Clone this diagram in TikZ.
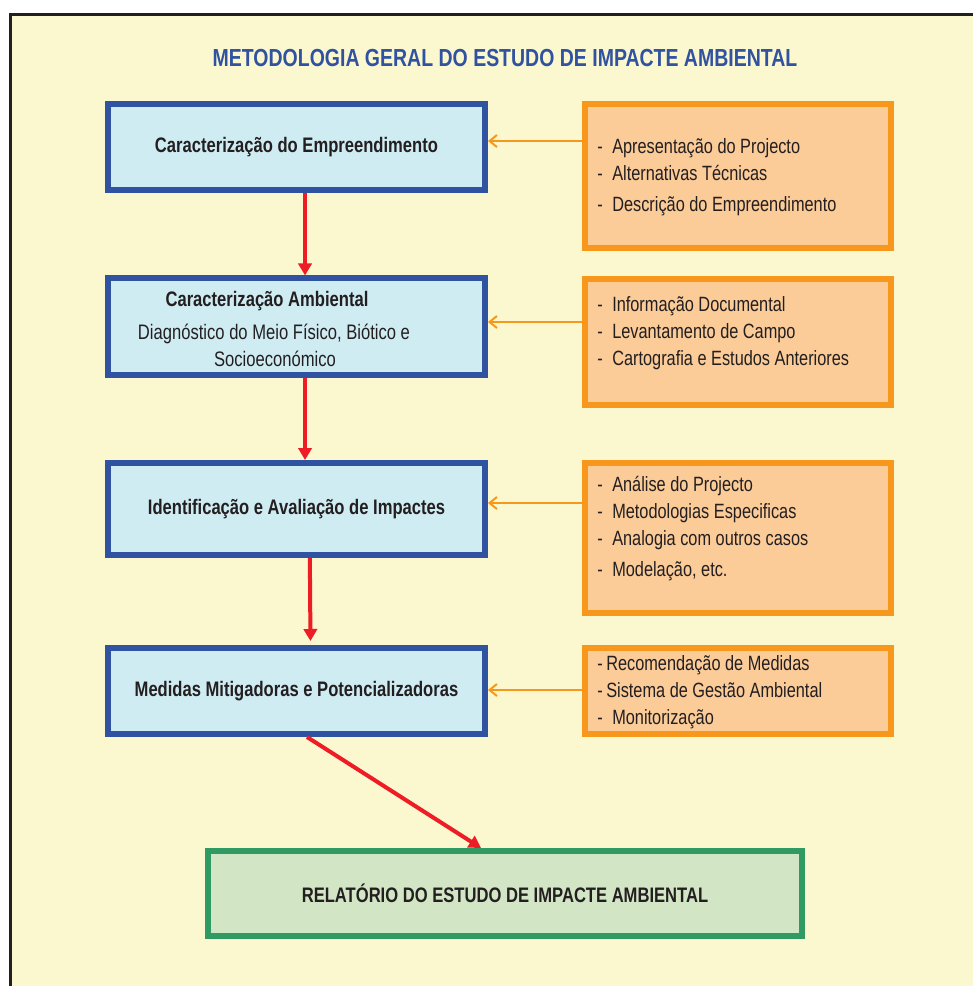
\documentclass[tikz,border=0pt]{standalone}
\usepackage{fontspec}
\setmainfont{Liberation Sans}[FakeStretch=0.79]
\usetikzlibrary{arrows.meta}
\definecolor{paper}{HTML}{FBF8CF}
\definecolor{frameline}{HTML}{231F20}
\definecolor{ink}{HTML}{231F20}
\definecolor{titleblue}{HTML}{3052A1}
\definecolor{stageline}{HTML}{2F52A1}
\definecolor{stagefill}{HTML}{D0ECF3}
\definecolor{sourceline}{HTML}{F7981D}
\definecolor{sourcefill}{HTML}{FBCB98}
\definecolor{reportline}{HTML}{2F9B63}
\definecolor{reportfill}{HTML}{D2E6C6}
\definecolor{flowred}{HTML}{EE1C25}
\newcommand\lineitem[2][11.25pt]{\makebox[#1][l]{-}#2}

\begin{document}
\begin{tikzpicture}[x=0.75pt,y=-0.75pt,
      stage/.style={draw=stageline, fill=stagefill, line width=4.5pt, outer sep=2.25pt,
        inner sep=0pt, minimum width=282.75pt, text=ink,
        font=\fontsize{15.75pt}{20.25pt}\selectfont\bfseries},
      source/.style={draw=sourceline, fill=sourcefill, line width=4.5pt, outer sep=2.25pt,
        inner sep=0pt, minimum width=229.5pt},
      items/.style={anchor=base west, inner sep=0pt, text=ink,
        font=\fontsize{15.5pt}{20.25pt}\selectfont},
      flow/.style={draw=flowred, line width=3pt, -{Triangle[length=9pt,width=10pt]}},
      feed/.style={draw=sourceline, line width=1.5pt, -{Straight Barb[length=5.5pt,width=9pt]}}]
    \useasboundingbox (0,0) rectangle (973,986);
    \fill[paper] (10,14.5) rectangle (973,986);
    \draw[frameline, line width=2.25pt] (10,986) |- (973,14.5);

    \node (title) [anchor=base, text=titleblue, font=\fontsize{18.5pt}{22pt}\selectfont\bfseries]
        at (505,66) {METODOLOGIA GERAL DO ESTUDO DE IMPACTE AMBIENTAL};

    \node (box1) [stage, minimum height=64.5pt] at (296.5,147) {Caracterização do Empreendimento};
    \node (box2) [stage, minimum height=71.25pt] at (296.5,326.5) {\begin{tabular}{@{}c@{}}
        \rule{0pt}{21pt}Caracterização Ambiental\hspace*{44.25pt}\\[4.5pt]
        \mdseries Diagnóstico do Meio Físico, Biótico e\hspace*{33.75pt}\\
        \mdseries Socioeconómico\hspace*{32.25pt}\end{tabular}};
    \node (box3) [stage, minimum height=69pt] at (296.5,509) {Identificação e Avaliação de Impactes};
    \node (box4) [stage, minimum height=64.5pt] at (296.5,691) {Medidas Mitigadoras e Potencializadoras};
    \node (report) [stage, draw=reportline, fill=reportfill, minimum width=445.5pt, minimum height=63.75pt]
        at (505,893.5) {RELATÓRIO DO ESTUDO DE IMPACTE AMBIENTAL};

    \node (ctx1) [source, minimum height=108pt] at (738,176) {};
    \node (ctx2) [source, minimum height=94.5pt] at (738,342) {};
    \node (ctx3) [source, minimum height=112.5pt] at (738,538) {};
    \node (ctx4) [source, minimum height=64.5pt] at (738,691) {};

    \node (list1) [items] at (597,153) {\begin{tabular}[t]{@{}l@{}}
        \lineitem{Apresentação do Projecto}\\
        \lineitem{Alternativas Técnicas}\\[3pt]
        \lineitem{Descrição do Empreendimento}\end{tabular}};
    \node (list2) [items] at (597,311) {\begin{tabular}[t]{@{}l@{}}
        \lineitem{Informação Documental}\\
        \lineitem{Levantamento de Campo}\\
        \lineitem{Cartografia e Estudos Anteriores}\end{tabular}};
    \node (list3) [items] at (597,491.7) {\begin{tabular}[t]{@{}l@{}}
        \lineitem{Análise do Projecto}\\
        \lineitem{Metodologias Especificas}\\
        \lineitem{Analogia com outros casos}\\[3pt]
        \lineitem{Modelação, etc.}\end{tabular}};
    \node (list4) [items] at (597,670.7) {\begin{tabular}[t]{@{}l@{}}
        \lineitem[6.75pt]{Recomendação de Medidas}\\
        \lineitem[6.75pt]{Sistema de Gestão Ambiental}\\
        \lineitem{Monitorização}\end{tabular}};

    \draw[flow] ([xshift=6.4pt]box1.south) -- ([xshift=6.4pt]box2.north);
    \draw[flow] ([xshift=6.4pt]box2.south) -- ([xshift=6.4pt]box3.north);
    \draw[flow, shorten >=3pt] ([xshift=10pt]box3.south) -- ([xshift=10.5pt]box4.north);
    \draw[flow] ([xshift=7.9pt]box4.south) -- ([xshift=-18pt]report.north);

    \draw[feed] (ctx1.west |- 0,141) -- (box1.east |- 0,141);
    \draw[feed] (ctx2.west |- 0,322) -- (box2.east |- 0,322);
    \draw[feed] (ctx3.west |- 0,503) -- (box3.east |- 0,503);
    \draw[feed] (ctx4.west |- 0,690) -- (box4.east |- 0,690);
\end{tikzpicture}
\end{document}
